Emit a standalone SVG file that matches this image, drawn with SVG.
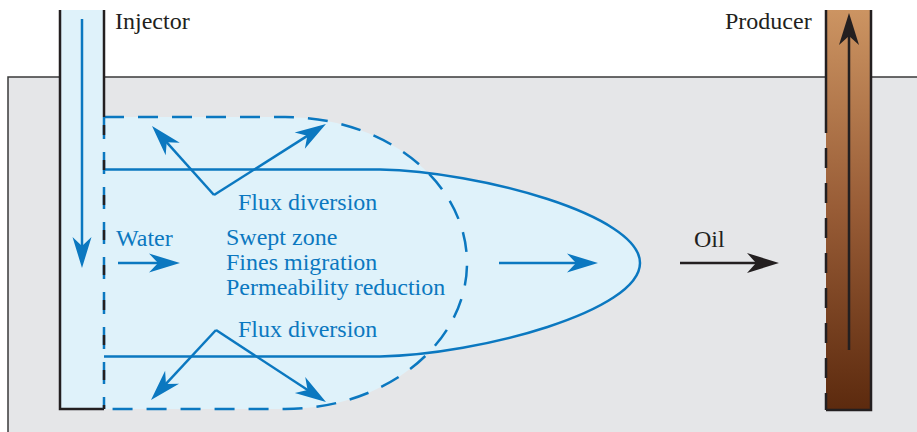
<svg xmlns="http://www.w3.org/2000/svg" width="917" height="432" viewBox="0 0 917 432">
<style>
.t{font-family:"Liberation Serif","Times New Roman",serif;font-size:24px}
.blue{fill:#0b78c0}
.blk{fill:#231f20}
.bl{stroke:#0b78c0;stroke-width:2.5;fill:none}
.kl{stroke:#231f20;stroke-width:2.5;fill:none}
</style>
<defs>
<linearGradient id="oilg" x1="0" y1="0" x2="0" y2="1">
<stop offset="0" stop-color="#cc9462"/>
<stop offset="0.5" stop-color="#985c36"/>
<stop offset="1" stop-color="#5c2a0e"/>
</linearGradient>
<marker id="ab" markerUnits="userSpaceOnUse" viewBox="-22 -10 33 20" refX="0" refY="0" markerWidth="33" markerHeight="20" orient="auto">
<path d="M10,0 L-21,-9.5 L-12,0 L-21,9.5 Z" fill="#0b78c0"/>
</marker>
<marker id="ak" markerUnits="userSpaceOnUse" viewBox="-22 -11 33 22" refX="0" refY="0" markerWidth="33" markerHeight="22" orient="auto">
<path d="M10,0 L-22,-10 L-13,0 L-22,10 Z" fill="#231f20"/>
</marker>
</defs>

<g id="reservoir">
<rect x="8" y="77" width="909" height="355" fill="#e5e6e8"/>
<path d="M8 432 V77 H60 M104 77 H826 M871 77 H917" stroke="#3a3a3a" stroke-width="1.5" fill="none"/>
</g>

<g id="swept-zone">
<path d="M104 117 H285 A182 146 0 0 1 285 409 H104 Z" fill="#dff2fa"/>
<path d="M104 169.5 H380 C480 171.5 640 215 640 263 C640 311 480 354.5 380 356.5 H104 Z" fill="#dff2fa"/>
<path d="M104 169.5 H380 C480 171.5 640 215 640 263 C640 311 480 354.5 380 356.5 H104" class="bl" stroke-width="2.2"/>
<path d="M104 117 H285 A182 146 0 0 1 285 409 H104" class="bl" stroke-width="3" stroke-dasharray="20 14"/>
</g>

<g id="injector">
<rect x="60" y="10" width="44" height="399" fill="#dff2fa"/>
<path d="M60 10 V409 H104" class="kl"/>
<path d="M104 10 V117" class="kl"/>
<path d="M104 117 V409" class="bl" stroke-width="3" stroke-dasharray="22 13"/>
<path d="M104 117 V409" class="kl" stroke-width="3" stroke-dasharray="0 8 10 17"/>
<text x="115" y="29" class="t blk">Injector</text>
</g>

<g id="producer">
<rect x="826" y="10" width="45" height="400" fill="url(#oilg)"/>
<path d="M826 10 V113" class="kl"/>
<path d="M826 113 V410" class="kl" stroke-dasharray="20 15"/>
<path d="M826 410 H871 V10" class="kl"/>
<text x="725" y="29" class="t blk">Producer</text>
</g>

<g id="labels">
<text x="238" y="210" class="t blue">Flux diversion</text>
<text x="116" y="246" class="t blue">Water</text>
<text x="226" y="245" class="t blue">Swept zone</text>
<text x="226" y="270" class="t blue">Fines migration</text>
<text x="226" y="295" class="t blue">Permeability reduction</text>
<text x="238" y="337" class="t blue">Flux diversion</text>
<text x="694" y="247" class="t blk">Oil</text>
</g>

<g id="connectors">
<path d="M82 19 V258" class="bl" marker-end="url(#ab)"/>
<path d="M118 263 H170" class="bl" marker-end="url(#ab)"/>
<path d="M499 263 H588" class="bl" marker-end="url(#ab)"/>
<path d="M214 195 L158.7 133.4" class="bl" marker-end="url(#ab)"/>
<path d="M214 195 L317.5 129.4" class="bl" marker-end="url(#ab)"/>
<path d="M216 330 L157.8 392.7" class="bl" marker-end="url(#ab)"/>
<path d="M216 330 L317.6 396.5" class="bl" marker-end="url(#ab)"/>
<path d="M680 263 H769" class="kl" marker-end="url(#ak)"/>
<path d="M849 350 V23" class="kl" marker-end="url(#ak)"/>
</g>
</svg>
